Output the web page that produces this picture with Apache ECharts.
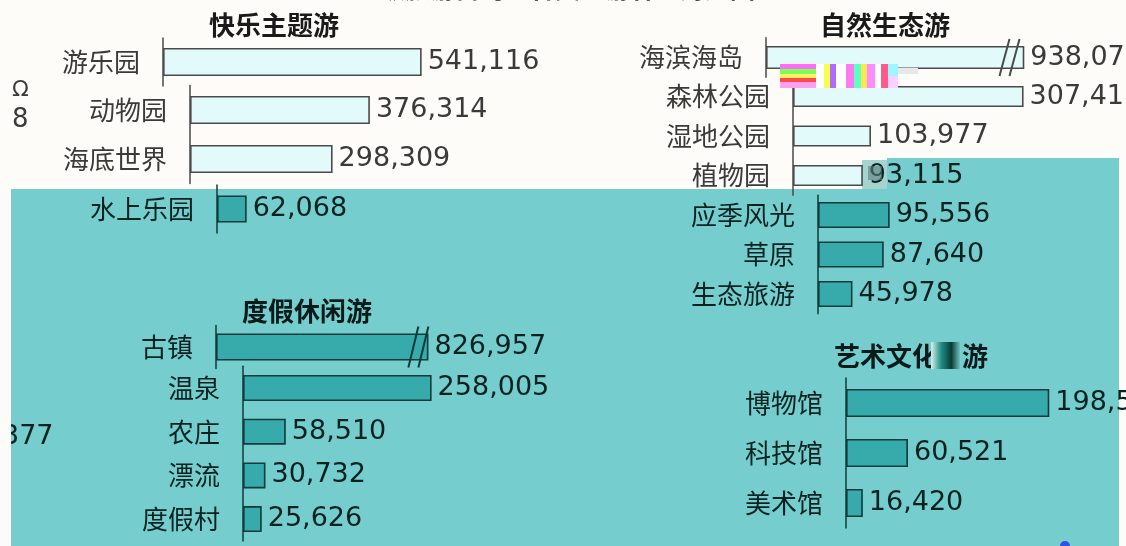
<!DOCTYPE html>
<html>
<head>
<meta charset="utf-8">
<script src="https://cdn.jsdelivr.net/npm/echarts@6/dist/echarts.min.js"></script>
<style>
  html, body { margin: 0; padding: 0; background: #fefcf8; }
  #chart { width: 1126px; height: 546px; }
</style>
</head>
<body>
<div id="chart"></div>
<script>
// ---------- data ----------
const panelTitles = ['快乐主题游', '自然生态游', '度假休闲游', '艺术文化游'];
const mainTitle = '二级旅游目的地各类型游客量对比图';

const themeParkCats = ['游乐园', '动物园', '海底世界', '水上乐园'];
const themeParkVals = [541116, 376314, 298309, 62068];

const natureCats = ['海滨海岛', '森林公园', '湿地公园', '植物园', '应季风光', '草原', '生态旅游'];
const natureVals = [938074, 307418, 103977, 93115, 95556, 87640, 45978];

const leisureCats = ['古镇', '温泉', '农庄', '漂流', '度假村'];
const leisureVals = [826957, 258005, 58510, 30732, 25626];

const cultureCats = ['博物馆', '科技馆', '美术馆'];
const cultureVals = [198512, 60521, 16420];

// broken value ranges for the two very long bars
const seaIslandBreak = [318000, 925000];
const oldTownBreak = [270000, 820000];

// ---------- styles ----------
const LIGHT = { bar: '#e3fafa', border: '#4a4a4a', text: '#3a3a3a', axis: '#4a4a4a', title: '#1a1a1a' };
const DARK  = { bar: '#37abab', border: '#0f3a3a', text: '#082222', axis: '#0f3a3a', title: '#081a1a' };
const TEAL_BG = '#75cdcd';
const PAPER = '#fefcf8';
const CJK = 'Noto Sans CJK SC';
const NUM = 'DejaVu Sans';

// each segment is a run of rows drawn in its own grid
const segments = [
  { cats: themeParkCats, vals: themeParkVals, from: 0, to: 1, left: 163, mid: 62,  pitch: 48,   barH: 28, scale: 0.478e-3, tone: LIGHT },
  { cats: themeParkCats, vals: themeParkVals, from: 1, to: 3, left: 190, mid: 110, pitch: 49,   barH: 28, scale: 0.478e-3, tone: LIGHT },
  { cats: themeParkCats, vals: themeParkVals, from: 3, to: 4, left: 217, mid: 209, pitch: 48,   barH: 27, scale: 0.478e-3, tone: DARK },
  { cats: natureCats, vals: natureVals, from: 0, to: 1, left: 766, mid: 57.5, pitch: 39.5, barH: 23, scale: 0.75e-3, tone: LIGHT, brk: seaIslandBreak },
  { cats: natureCats, vals: natureVals, from: 1, to: 4, left: 793, mid: 96.5, pitch: 39.5, barH: 21, scale: 0.75e-3, tone: LIGHT, labelTones: [LIGHT, LIGHT, DARK] },
  { cats: natureCats, vals: natureVals, from: 4, to: 7, left: 818, mid: 215,  pitch: 39.5, barH: 26, scale: 0.75e-3, tone: DARK },
  { cats: leisureCats, vals: leisureVals, from: 0, to: 1, left: 216, mid: 347, pitch: 43,   barH: 27, scale: 0.731e-3, tone: DARK, brk: oldTownBreak },
  { cats: leisureCats, vals: leisureVals, from: 1, to: 5, left: 243, mid: 388, pitch: 43.7, barH: 26, scale: 0.731e-3, tone: DARK },
  { cats: cultureCats, vals: cultureVals, from: 0, to: 3, left: 846, mid: 403, pitch: 50,   barH: 28, scale: 1.024e-3, tone: DARK }
];

const fmt = v => Number(v).toLocaleString('en-US');

const grid = [], xAxis = [], yAxis = [], series = [];
segments.forEach((s, i) => {
  const cats = s.cats.slice(s.from, s.to);
  const vals = s.vals.slice(s.from, s.to);
  const n = cats.length;
  const max = 1000000;
  let span = max;
  const xa = { type: 'value', gridIndex: i, min: 0, max: max, show: false, splitLine: { show: false } };
  if (s.brk) {
    const gap = 10 / s.scale;
    xa.breaks = [{ start: s.brk[0], end: s.brk[1], gap: gap }];
    xa.breakArea = { show: false };
    span = max - (s.brk[1] - s.brk[0]) + gap;
  }
  grid.push({
    left: s.left, top: s.mid - s.pitch / 2, width: s.scale * span, height: n * s.pitch,
    containLabel: false, outerBoundsMode: 'none'
  });
  xAxis.push(xa);
  yAxis.push({
    type: 'category', gridIndex: i, data: cats, inverse: true,
    axisLine: { show: true, lineStyle: { color: s.tone.axis, width: 1.5 } },
    axisTick: { show: false }, splitLine: { show: false },
    axisLabel: { color: s.tone.text, fontSize: 26, fontFamily: CJK, margin: 23 }
  });
  series.push({
    type: 'bar', xAxisIndex: i, yAxisIndex: i, barWidth: s.barH, silent: true,
    itemStyle: { color: s.tone.bar, borderColor: s.tone.border, borderWidth: 1.6 },
    label: { show: true, position: 'right', distance: 6, fontSize: 27, fontFamily: NUM,
             color: s.tone.text, formatter: p => fmt(p.value) },
    data: vals.map((v, k) => {
      const t = s.labelTones ? s.labelTones[k] : null;
      return t ? { value: v, label: { color: t.text } } : v;
    })
  });
  if (s.brk) {
    const stroke = s.tone.border;
    const half = s.barH / 2 + 7;
    series.push({
      type: 'custom', xAxisIndex: i, yAxisIndex: i, silent: true, z: 5,
      data: [[s.brk[0], s.brk[1], 0]],
      encode: { x: [0, 1], y: 2 },
      renderItem: (params, api) => {
        const a = api.coord([api.value(0), api.value(2)]);
        const b = api.coord([api.value(1), api.value(2)]);
        const slash = x => ({
          type: 'line',
          shape: { x1: x - 5, y1: a[1] + half, x2: x + 5, y2: a[1] - half },
          style: { stroke: stroke, lineWidth: 2 }
        });
        return { type: 'group', children: [slash(a[0]), slash(b[0])] };
      }
    });
  }
});

// panel headings, backgrounds and loose fragments
const titleStyle = (tone) => ({ fontFamily: CJK, fontSize: 26, fontWeight: 'bold', fill: tone.title });
const noise = [
  ['#ff6cf5', 780, 64, 36, 5], ['#7dff5a', 780, 69, 36, 5], ['#fff25a', 780, 74, 36, 4],
  ['#ff4a4a', 780, 78, 36, 4], ['#ffa0f0', 780, 82, 36, 6],
  ['#ffffff', 816, 64, 8, 24], ['#f7ff4a', 824, 64, 6, 24], ['#b06cff', 830, 64, 6, 24],
  ['#ffffff', 836, 64, 10, 24], ['#ff7af0', 846, 64, 8, 24], ['#5fffc8', 854, 64, 7, 24],
  ['#ffe94a', 861, 64, 6, 24], ['#ff8cff', 867, 64, 8, 24], ['#ffffff', 875, 64, 6, 24],
  ['#ff5c8c', 881, 64, 7, 24], ['#9ef7ff', 888, 64, 10, 12], ['#ffd0ff', 888, 76, 10, 12],
  ['#e8e8e8', 898, 68, 20, 6]
];

const graphic = [
  { type: 'rect', z: -10, shape: { x: 11, y: 189, width: 1108, height: 357 }, style: { fill: TEAL_BG } },
  { type: 'rect', z: -10, shape: { x: 887, y: 158, width: 232, height: 31 }, style: { fill: TEAL_BG } },
  { type: 'rect', z: -10, shape: { x: 862, y: 160, width: 25, height: 29 }, style: { fill: '#8fc9c6', opacity: 0.8 } },
  { type: 'rect', z: 50, shape: { x: 868, y: 166, width: 14, height: 14 }, style: { fill: '#5a7d7a', opacity: 0.6 } },
  // heading texts
  { type: 'text', z: 50, x: 274, y: 25, style: Object.assign({ text: panelTitles[0], textAlign: 'center', textVerticalAlign: 'middle' }, titleStyle(LIGHT)) },
  { type: 'text', z: 50, x: 885, y: 25, style: Object.assign({ text: panelTitles[1], textAlign: 'center', textVerticalAlign: 'middle' }, titleStyle(LIGHT)) },
  { type: 'text', z: 50, x: 307, y: 311, style: Object.assign({ text: panelTitles[2], textAlign: 'center', textVerticalAlign: 'middle' }, titleStyle(DARK)) },
  { type: 'text', z: 50, x: 834, y: 356, style: Object.assign({ text: panelTitles[3].slice(0, 4), textAlign: 'left', textVerticalAlign: 'middle' }, titleStyle(DARK)) },
  { type: 'text', z: 50, x: 962, y: 356, style: Object.assign({ text: panelTitles[3].slice(4), textAlign: 'left', textVerticalAlign: 'middle' }, titleStyle(DARK)) },
  { type: 'rect', z: 60, shape: { x: 931, y: 342, width: 29, height: 27 },
    style: { fill: { type: 'linear', x: 0, y: 0, x2: 1, y2: 0, colorStops: [
      { offset: 0, color: '#d8f0ee' }, { offset: 0.35, color: '#1f8f84' }, { offset: 0.7, color: '#0b3a36' }, { offset: 1, color: '#6bc2bf' }] } } },
  // cut-off heading along the top edge
  { type: 'text', z: 50, x: 555, y: 1, style: { text: mainTitle, textAlign: 'center', textVerticalAlign: 'bottom',
      fontFamily: CJK, fontSize: 25, fontWeight: 'bold', fill: '#1a1a1a' } },
  // stray glyphs on the left edge
  { type: 'text', z: 50, x: 12, y: 90, style: { text: 'Ω', fontFamily: NUM, fontSize: 22, fill: '#3a3a3a', textVerticalAlign: 'middle' } },
  { type: 'text', z: 50, x: 12, y: 120, style: { text: '8', fontFamily: NUM, fontSize: 26, fill: '#3a3a3a', textVerticalAlign: 'middle' } },
  { type: 'text', z: 50, x: 2, y: 437, style: { text: '377', fontFamily: NUM, fontSize: 27, fill: DARK.text, textVerticalAlign: 'middle' } },
  { type: 'rect', z: 100, shape: { x: 0, y: 189, width: 11, height: 357 }, style: { fill: PAPER } },
  { type: 'circle', z: 50, shape: { cx: 1065, cy: 546, r: 5 }, style: { fill: '#2f52e0' } }
].concat(noise.map(n => ({ type: 'rect', z: 60, shape: { x: n[1], y: n[2], width: n[3], height: n[4] }, style: { fill: n[0] } })));

const chart = echarts.init(document.getElementById('chart'), null, { renderer: 'canvas' });
chart.setOption({
  backgroundColor: PAPER,
  animation: false,
  tooltip: { show: false },
  grid, xAxis, yAxis, series,
  graphic: { elements: graphic }
});
</script>
</body>
</html>
